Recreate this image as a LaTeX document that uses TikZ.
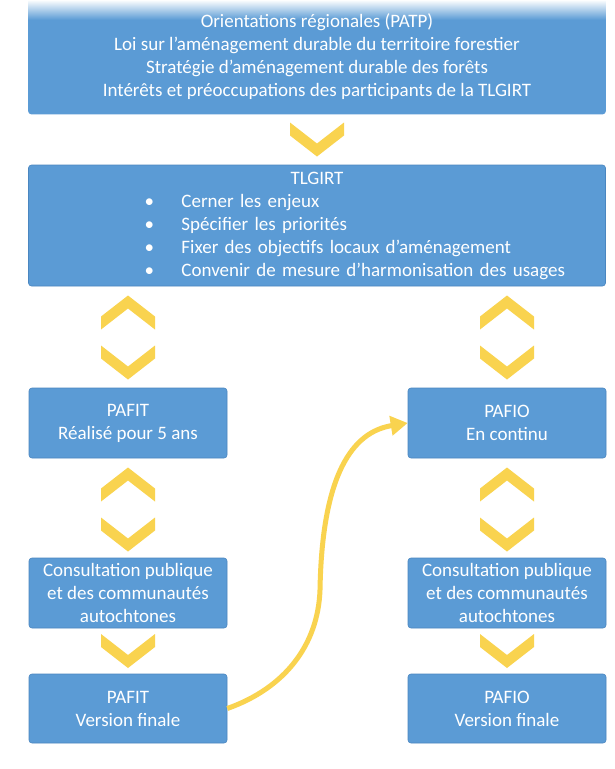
\documentclass[tikz,border=0pt]{standalone}
\usepackage{fontspec}
\setmainfont{Carlito}
\usetikzlibrary{arrows.meta,backgrounds}
\definecolor{boxblue}{HTML}{5B9BD5}
\definecolor{boxedge}{HTML}{4A86C0}
\definecolor{chevgold}{HTML}{F9D34F}

\tikzset{
  bluebox/.style={draw=boxedge,line width=0.6pt,fill=boxblue,rounded corners=3pt,
    text=white,align=center,inner sep=0pt,font=\fontsize{19}{23}\selectfont},
  chevdown/.pic={\fill[chevgold] (-27,-17) -- (0,4) -- (27,-17) -- (27,-4)
    -- (0,17) -- (-27,-4) -- cycle;},
  chevup/.pic={\fill[chevgold] (-27,17) -- (0,-4) -- (27,17) -- (27,4)
    -- (0,-17) -- (-27,4) -- cycle;}
}

\begin{document}
\begin{tikzpicture}[x=1pt,y=-1pt]

  \useasboundingbox (0,0) rectangle (615,769);

  % ===== SOURCES =====
  \node[bluebox,fill=none,draw=none,minimum width=577,minimum height=114]
        (src) at (317,57)
        {Orientations régionales (PATP)\\
         Loi sur l’aménagement durable du territoire forestier\\
         Stratégie d’aménagement durable des forêts\\
         Intérêts et préoccupations des participants de la TLGIRT};
  \begin{scope}[on background layer]
    \fill[white] (0,0) rectangle (615,769);
    \fill[boxblue,rounded corners=3pt] (src.north west) rectangle (src.south east);
    \shade[top color=white,bottom color=boxblue]
          (src.north west) rectangle ([yshift=-20pt]src.north east);
  \end{scope}

  % ===== TLGIRT =====
  \node[bluebox,align=left,text width=577,minimum height=121]
        (tl) at (317,225.5)
        {\makebox[577pt]{TLGIRT}\\
         \hspace*{116pt}\makebox[37pt][l]{\textbullet}Cerner les enjeux\\
         \hspace*{116pt}\makebox[37pt][l]{\textbullet}Spécifier les priorités\\
         \hspace*{116pt}\makebox[37pt][l]{\textbullet}Fixer des objectifs locaux d’aménagement\\
         \hspace*{116pt}\makebox[37pt][l]{\textbullet}Convenir de mesure d’harmonisation des usages};

  % ===== PAFIT / PAFIO =====
  \node[bluebox,minimum width=198,minimum height=70] (pafit) at (128,423)
        {PAFIT\\Réalisé pour 5 ans};
  \node[bluebox,minimum width=198,minimum height=70] (pafio) at (507,423)
        {PAFIO\\En continu};

  \node[bluebox,minimum width=198,minimum height=70] (consL) at (128,593)
        {Consultation publique\\et des communautés\\autochtones};
  \node[bluebox,minimum width=198,minimum height=70] (consR) at (507,593)
        {Consultation publique\\et des communautés\\autochtones};

  \node[bluebox,minimum width=198,minimum height=69] (finL) at (128,708.5)
        {PAFIT\\Version finale};
  \node[bluebox,minimum width=198,minimum height=69] (finR) at (507,708.5)
        {PAFIO\\Version finale};

  % ===== CHEVRONS =====
  \pic at (317,139.5) {chevdown};
  \foreach \cx in {128,507} {
    \pic at (\cx,312.5) {chevup};
    \pic at (\cx,362.5) {chevdown};
    \pic at (\cx,484.5) {chevup};
    \pic at (\cx,534.5) {chevdown};
    \pic at (\cx,651) {chevdown};
  }

  % ===== PAFIT -> PAFIO =====
  \draw[chevgold,line width=5pt,-{Triangle[length=17pt,width=19pt]}]
        (finL.east) .. controls (285,688) and (318,645) .. (320,590)
        .. controls (322,475) and (352,432) .. (pafio.west);

\end{tikzpicture}
\end{document}
